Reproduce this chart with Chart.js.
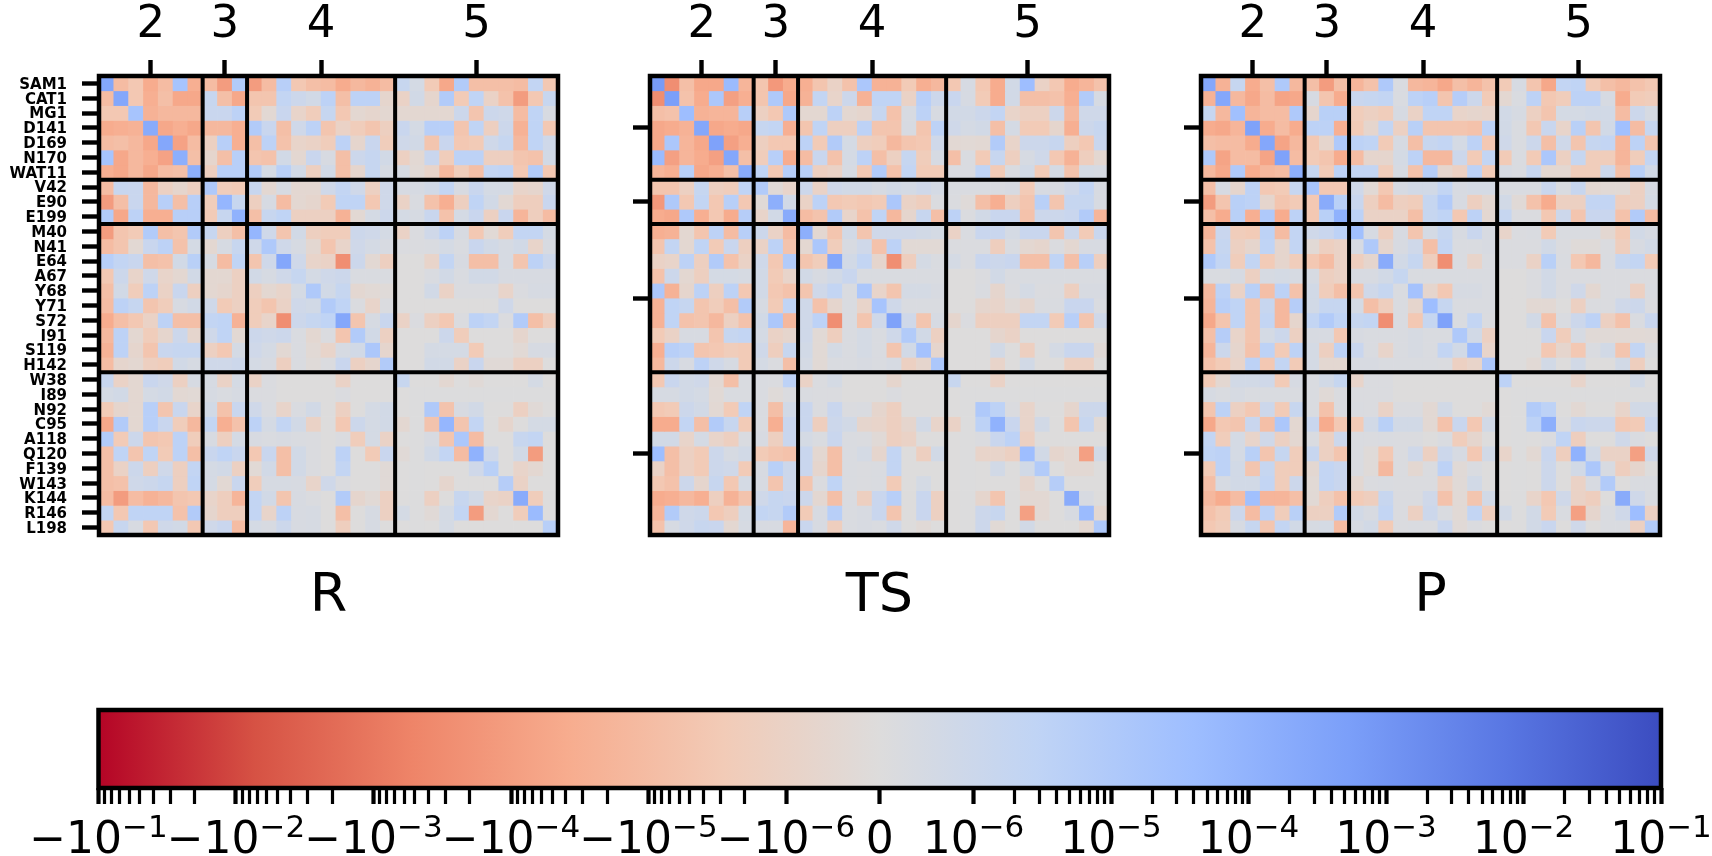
<!DOCTYPE html>
<html>
<head>
<meta charset="utf-8">
<title>Coupling matrices</title>
<script src="https://cdn.jsdelivr.net/npm/chart.js@4/dist/chart.umd.min.js"></script>
<style>
    html, body { margin: 0; background: #fff; overflow: hidden; }
    canvas { position: absolute; }
</style>
</head>
<body>
<canvas id="panelR" width="570" height="640" style="left:0;top:0"></canvas>
<canvas id="panelTS" width="570" height="640" style="left:551px;top:0"></canvas>
<canvas id="panelP" width="570" height="640" style="left:1102px;top:0"></canvas>
<canvas id="colorbar" width="1712" height="216" style="left:0;top:640px"></canvas>
<script>
const residues = ['SAM1', 'CAT1', 'MG1', 'D141', 'D169', 'N170', 'WAT11', 'V42', 'E90', 'E199',
    'M40', 'N41', 'E64', 'A67', 'Y68', 'Y71', 'S72', 'I91', 'S119', 'H142',
    'W38', 'I89', 'N92', 'C95', 'A118', 'Q120', 'F139', 'W143', 'K144', 'R146', 'L198'];
const groupEdges = [7, 10, 20];
const groupCentres = [3.5, 8.5, 15, 25.5];
const groupLabels = ['2', '3', '4', '5'];

// values are the position on the colour bar, -100 (-10^-1) .. 0 .. 100 (10^-1)
// the matrices are symmetric, each row starts at the diagonal
const upperR = [
    [55,-30,-22,-40,-30,35,-38, -30,-48,28, -48,-30,25,-22,-28,-30,-40,-32,-36,-30, 15,6,-20,-42,28,-28,-28,-28,-30,18,-22],
    [55,-22,-38,-28,-42,-42, 15,-28,-42, -24,-24,18,12,8,22,-28,22,22,-8, -12,8,-8,28,-20,20,-12,-26,-48,-22,15],
    [35,-36,-32,-32,-32, 14,14,22, -20,-5,14,-10,-18,16,-22,-6,-8,-6, -6,-6,-6,-6,12,-24,12,10,-30,20,4],
    [52,-42,-38,-42, -32,-32,-38, 28,14,-28,10,22,-24,-12,-18,-24,-15, 14,6,25,25,-24,20,-15,12,-36,20,-22],
    [55,-45,-30, -14,25,-38, -28,22,-26,-10,-12,-18,22,-8,14,-18, 10,8,-24,14,-22,-20,10,16,-32,20,10],
    [50,-28, -8,-28,25, -24,-26,8,-6,14,4,-28,12,16,8, -14,-5,14,-18,22,22,-15,-15,-24,-26,8],
    [50, -15,25,25, 28,6,24,8,-15,8,-28,-8,16,5, 5,-4,-10,-32,-18,-28,18,20,-22,28,-22],
    [30,-18,-20, 15,-6,5,-6,-6,10,18,10,-14,10, 5,5,8,18,4,14,6,6,-10,-8,10],
    [45,15, -15,5,-30,-6,-8,-20,20,20,-22,10, -12,3,-26,-38,-15,20,8,-5,-16,-16,14],
    [48, -28,15,20,-14,-14,-14,-36,-5,6,12, 6,5,14,-26,6,14,-14,14,-34,-16,-30],
    [45,10,-24,8,-15,-18,-18,12,10,6, -12,2,10,22,4,-22,-4,-18,18,18,6],
    [30,10,5,-6,-24,-10,10,6,4, 2,2,3,6,3,14,8,5,8,-10,4],
    [55,10,-10,-12,-55,12,-5,-15, 0,0,-10,18,4,-28,-28,5,-24,22,12],
    [16,6,10,12,3,3,3, 0,0,3,8,3,8,8,4,4,4,4],
    [30,8,16,-6,-4,-2, 0,0,8,-12,2,2,2,-10,2,5,5],
    [28,20,2,-10,2, 0,0,0,0,0,0,0,10,0,0,0],
    [55,-24,5,14, -12,2,-14,-22,2,22,18,2,28,-28,-16],
    [28,8,-14, 0,0,0,12,-18,0,0,0,-8,0,0],
    [32,-8, 0,0,6,6,6,-20,0,0,-4,5,5],
    [28, 0,0,8,8,-12,14,-3,-3,-14,-14,0],
    [15,0,0,-6,0,-3,0,0,0,6,0],
    [1,1,1,1,1,1,1,1,1,1],
    [30,-25,4,8,0,0,-14,-3,0],
    [45,-24,18,0,-8,0,6,6],
    [32,-30,0,0,15,18,0],
    [48,10,0,8,-48,0],
    [24,0,-10,-6,0],
    [26,-12,0,0],
    [52,-18,0],
    [42,0],
    [25]
];
const upperTS = [
    [62,-55,-28,-42,-42,42,-34, -24,-50,-40, -38,-24,-12,-26,32,-36,-36,-20,-38,-32, -22,5,-22,-40,8,40,-12,-22,-40,-34,-26],
    [60,-26,-40,32,-46,-38, -24,30,-42, -36,18,-10,12,-36,20,20,-12,25,12, 14,5,-20,-40,8,-28,-28,-26,-38,28,5],
    [40,-36,-34,-34,25, -14,-22,30, -6,-6,22,-6,-8,16,-26,4,22,4, 8,8,12,18,-10,-14,-14,12,-32,10,10],
    [55,-42,-40,-42, 16,18,-38, -24,20,-15,-15,22,-24,-24,4,-24,22, 10,6,8,-28,6,-20,-20,-8,-38,12,15],
    [58,-46,-38, -15,-22,-22, 22,-20,28,6,-15,-18,-32,-24,-22,10, -5,-4,-5,28,-10,12,12,15,-15,-22,14],
    [55,-28, -18,25,-40, -30,14,-26,6,22,-28,-14,16,-18,5, -28,3,-20,15,-15,5,10,-22,-36,-16,-6],
    [52, 20,-22,26, 25,-15,-12,5,-22,28,-26,18,-20,-20, 3,3,20,-20,3,8,-20,6,-25,6,5],
    [28,-3,-10, 12,-12,10,8,8,5,8,6,10,6, 3,3,3,3,4,-20,4,4,10,18,4],
    [50,8, -12,22,-22,-20,-22,-20,32,-12,-16,2, 2,-2,-28,-38,-15,-24,24,-24,16,16,4],
    [52, -30,-25,28,-10,-26,20,-32,-8,15,-28, 22,2,8,14,14,-26,12,12,14,28,-34],
    [50,-6,-24,8,-24,10,10,10,8,6, -12,3,14,14,6,14,14,-24,12,-20,14],
    [32,-18,4,10,-26,22,-4,-4,-4, 2,2,2,-16,3,-6,-8,2,-6,4,4],
    [55,8,18,-8,-55,-16,6,3, 6,2,14,12,14,-28,-28,20,-28,25,-16],
    [14,3,3,3,3,3,3, 0,0,2,8,3,3,3,3,3,3,3],
    [32,-10,-24,6,6,4, 0,0,3,-8,2,6,2,2,-15,4,4],
    [35,10,3,3,3, 0,0,-8,-10,-3,-8,3,3,14,14,3],
    [58,10,-24,5, -8,2,-15,-15,-15,18,18,-20,25,-24,10],
    [28,8,-14, 0,0,0,-8,-12,0,0,0,0,0,0],
    [36,-8, 0,0,0,8,0,-15,0,6,14,14,-3],
    [32, 0,0,0,-10,0,8,0,0,-14,-14,0],
    [15,0,0,-12,0,0,0,0,0,0,0],
    [1,1,1,1,1,1,1,1,1,1],
    [30,22,2,-10,0,0,-8,12,12],
    [48,14,-10,8,0,-24,15,-4],
    [22,-14,0,0,0,0,0],
    [40,8,-8,-5,-46,8],
    [28,0,-5,-5,0],
    [26,0,0,0],
    [52,4,0],
    [42,-6],
    [30]
];
const upperP = [
    [55,-36,16,-40,-28,30,-32, -28,-48,-28, -34,-26,30,3,-32,-34,-42,-28,-34,-26, -20,5,-24,-42,18,20,-20,-28,-32,-26,-22],
    [55,-32,-42,-30,-44,-42, 5,-24,-40, 14,16,18,3,22,25,-24,26,12,-20, -6,3,22,-22,-18,22,22,5,-40,-20,-18],
    [38,-34,-30,-30,30, -8,24,24, -18,-14,-18,5,-12,20,20,-10,-8,-10, 8,5,-14,-24,6,6,8,8,-30,12,5],
    [58,-40,-30,-40, 22,22,-38, -20,-8,18,-14,24,-24,-24,-24,-26,22, 8,3,-22,14,-10,24,-24,8,38,-30,16],
    [55,-44,-32, -22,-8,30, 22,20,-20,5,-28,15,18,6,22,-22, 10,3,12,-28,10,-24,16,18,-34,22,-24],
    [58,-30, -20,-24,-40, -30,-8,-8,6,22,-32,-32,12,-20,18, -20,3,-20,32,-14,16,-18,-18,-34,-18,18],
    [50, 16,-20,22, 18,18,-18,5,-26,26,-8,-14,22,-20, 5,3,15,-6,-6,-18,-18,12,-28,24,8],
    [34,-22,-22, 10,-4,-22,5,8,8,18,4,6,6, 3,3,3,14,3,15,-6,-4,-4,-14,5],
    [52,24, 14,-15,-30,-15,-18,16,28,4,-15,-6, 8,-3,-26,-40,-14,-14,18,18,-16,-14,6],
    [48, 22,-12,-12,-12,-28,16,20,-22,22,-6, 16,2,2,-22,12,-24,14,14,-26,28,-30],
    [38,5,-16,4,-24,6,16,4,14,4, -10,2,3,-20,3,3,3,-6,-20,8,5],
    [30,-8,4,10,-28,18,3,3,4, 2,2,2,8,2,-2,-2,2,-16,4,8],
    [52,8,16,-16,-55,3,-10,3, 2,2,-12,24,3,-22,-32,3,15,18,-20],
    [16,3,3,3,3,3,3, 0,0,2,8,2,2,2,2,2,2,2],
    [36,-8,-22,5,5,3, 0,0,2,8,2,10,-6,2,2,-14,3],
    [40,16,3,3,3, 0,0,-5,-5,0,-14,2,2,10,12,2],
    [58,3,18,2, 0,0,8,-26,3,12,22,-14,-26,3,14],
    [30,8,-14, 0,0,0,14,-18,5,-3,-3,-4,-4,-3],
    [42,-10, 0,0,0,-22,-8,-22,3,8,-24,18,2],
    [32, 0,0,-4,8,0,8,0,0,8,-16,0],
    [22,0,0,0,0,-10,0,0,0,8,0],
    [1,1,1,1,1,1,1,1,1,1],
    [28,22,0,-5,0,0,-10,8,8],
    [50,2,14,12,12,-22,-20,14],
    [20,-16,0,0,10,3,0],
    [48,8,-12,-12,-46,10],
    [32,4,-16,-8,0],
    [28,0,3,3],
    [52,10,3],
    [40,-14],
    [28]
];

const barDecades = [-1e-1, -1e-2, -1e-3, -1e-4, -1e-5, -1e-6, 0, 1e-6, 1e-5, 1e-4, 1e-3, 1e-2, 1e-1];
const barBases = ['\u221210', '\u221210', '\u221210', '\u221210', '\u221210', '\u221210', '0', '10', '10', '10', '10', '10', '10'];
const barExponents = ['\u22121', '\u22122', '\u22123', '\u22124', '\u22125', '\u22126', '', '\u22126', '\u22125', '\u22124', '\u22123', '\u22122', '\u22121'];
const minorSteps = [2, 3, 4, 5, 6, 7, 8, 9];

// coolwarm, blue end first
const coolwarm = ['#3b4cc0', '#5977e3', '#7b9ff9', '#9ebeff', '#c0d4f5', '#dddcdc', '#f2cbb7', '#f7ac8e', '#ee8468', '#d65244', '#b40426'];

const FONT = '"DejaVu Sans", sans-serif';
Chart.defaults.font.family = FONT;
Chart.defaults.color = '#000';
Chart.defaults.animation = false;

const coolwarmRgb = coolwarm.map(h => [1, 3, 5].map(i => parseInt(h.slice(i, i + 2), 16)));

function cellColor(p) {
    const t = (100 - p) / 200 * 10;
    const i = Math.min(Math.floor(t), 9);
    const f = t - i;
    const c = coolwarmRgb[i].map((v, k) => Math.round(v + (coolwarmRgb[i + 1][k] - v) * f));
    return `rgb(${c[0]},${c[1]},${c[2]})`;
}

function fullMatrix(upper) {
    return residues.map((_, r) => residues.map((_, c) => (c >= r ? upper[r][c - r] : upper[c][r - c])));
}

// symlog position on the colour bar, linear below 1e-6
function barPosition(v) {
    const a = Math.abs(v);
    const p = a <= 1e-6 ? 12 * a / 1e-6 : 12 + 17.6 * Math.log10(a / 1e-6);
    return v < 0 ? -p : p;
}

const framePlugin = {
    id: 'frame',
    afterDatasetsDraw(chart) {
        const { ctx, chartArea: a, scales } = chart;
        ctx.save();
        ctx.strokeStyle = '#000';
        if (scales.top) {
            ctx.lineWidth = 4;
            ctx.beginPath();
            groupEdges.forEach(e => {
                const x = scales.top.getPixelForValue(e);
                const y = scales.y.getPixelForValue(e);
                ctx.moveTo(x, a.top);
                ctx.lineTo(x, a.bottom);
                ctx.moveTo(a.left, y);
                ctx.lineTo(a.right, y);
            });
            ctx.stroke();
        }
        ctx.lineWidth = 4.5;
        ctx.strokeRect(a.left, a.top, a.right - a.left, a.bottom - a.top);
        ctx.restore();
    }
};

// tick labels of the colour bar: base plus a raised, smaller exponent
const barLabelPlugin = {
    id: 'barLabels',
    afterDraw(chart) {
        const { ctx, scales } = chart;
        ctx.save();
        ctx.fillStyle = '#000';
        ctx.textAlign = 'left';
        ctx.textBaseline = 'alphabetic';
        barDecades.forEach((d, i) => {
            ctx.font = `44px ${FONT}`;
            const baseWidth = ctx.measureText(barBases[i]).width;
            ctx.font = `31px ${FONT}`;
            const expWidth = ctx.measureText(barExponents[i]).width;
            const x = scales.ticksX.getPixelForValue(barPosition(d)) - (baseWidth + expWidth) / 2;
            ctx.font = `44px ${FONT}`;
            ctx.fillText(barBases[i], x, 213);
            ctx.font = `31px ${FONT}`;
            ctx.fillText(barExponents[i], x + baseWidth, 196.5);
        });
        ctx.restore();
    }
};

function drawPanel(id, upper, name, showNames) {
    const matrix = fullMatrix(upper);
    new Chart(document.getElementById(id), {
        type: 'bar',
        plugins: [framePlugin],
        data: {
            labels: residues,
            datasets: matrix.map((row, r) => ({
                data: row.map(() => [r, r + 1]),
                backgroundColor: row.map(cellColor),
                borderWidth: 0,
                barPercentage: 1,
                categoryPercentage: 1,
                grouped: false,
                xAxisID: 'x',
                yAxisID: 'y'
            }))
        },
        options: {
            responsive: false,
            layout: { padding: { right: 12 } },
            plugins: { legend: { display: false }, tooltip: { enabled: false } },
            scales: {
                x: {
                    position: 'bottom',
                    ticks: { display: false },
                    grid: { display: false },
                    border: { display: false },
                    title: { display: true, text: name, font: { size: 54 }, padding: { top: 0, bottom: 11 } },
                    afterFit(scale) { scale.height = 640 - 76 - 459; }
                },
                top: {
                    type: 'linear',
                    position: 'top',
                    offset: false,
                    min: 0,
                    max: 31,
                    afterBuildTicks(scale) { scale.ticks = groupCentres.map(v => ({ value: v })); },
                    ticks: {
                        autoSkip: false,
                        maxRotation: 0,
                        font: { size: 45 },
                        padding: 8,
                        callback: (v, i) => groupLabels[i]
                    },
                    grid: { offset: false, drawOnChartArea: false, tickLength: 16, tickWidth: 4.4, tickColor: '#000' },
                    border: { display: false },
                    afterFit(scale) { scale.height = 76; }
                },
                y: {
                    type: 'linear',
                    reverse: true,
                    min: 0,
                    max: 31,
                    afterBuildTicks(scale) {
                        const at = showNames ? residues.map((_, i) => i + 0.5) : groupCentres;
                        scale.ticks = at.map(v => ({ value: v }));
                    },
                    ticks: {
                        autoSkip: false,
                        font: { size: 15, weight: 'bold' },
                        padding: 15,
                        labelOffset: 1.5,
                        callback: (v, i) => (showNames ? residues[i] : '')
                    },
                    grid: { drawOnChartArea: false, tickLength: 17, tickWidth: 4.4, tickColor: '#000' },
                    border: { display: false },
                    afterFit(scale) { scale.width = 99; }
                }
            }
        }
    });
}

drawPanel('panelR', upperR, 'R', true);
drawPanel('panelTS', upperTS, 'TS', false);
drawPanel('panelP', upperP, 'P', false);

const barTicks = [];
barDecades.forEach(d => {
    barTicks.push({ value: barPosition(d), major: true });
    if (d !== 0 && Math.abs(d) < 1e-1) {
        minorSteps.forEach(m => barTicks.push({ value: barPosition(d * m), major: false }));
    }
});
barTicks.sort((a, b) => a.value - b.value);

new Chart(document.getElementById('colorbar'), {
    type: 'bar',
    plugins: [framePlugin, barLabelPlugin],
    data: {
        labels: ['bar'],
        datasets: [{
            data: [[0, 1]],
            xAxisID: 'barX',
            yAxisID: 'barY',
            barPercentage: 1,
            categoryPercentage: 1,
            borderWidth: 0,
            backgroundColor(ctx) {
                const a = ctx.chart.chartArea;
                if (!a) return '#dddcdc';
                const g = ctx.chart.ctx.createLinearGradient(a.left, 0, a.right, 0);
                coolwarm.slice().reverse().forEach((c, i) => g.addColorStop(i / 10, c));
                return g;
            }
        }]
    },
    options: {
        responsive: false,
        layout: { padding: { left: 98.5, right: 51, top: 70 } },
        plugins: { legend: { display: false }, tooltip: { enabled: false } },
        scales: {
            barX: { display: false },
            barY: { display: false, min: 0, max: 1 },
            ticksX: {
                type: 'linear',
                position: 'bottom',
                offset: false,
                min: -100,
                max: 100,
                afterBuildTicks(scale) { scale.ticks = barTicks.map(t => ({ value: t.value, major: t.major })); },
                ticks: { display: false },
                grid: {
                    offset: false,
                    drawOnChartArea: false,
                    tickLength: 16,
                    tickWidth: ctx => (ctx.tick && ctx.tick.major ? 4.2 : 3.2),
                    tickColor: '#000'
                },
                border: { display: false },
                afterFit(scale) { scale.height = 68; }
            }
        }
    }
});
</script>
</body>
</html>
